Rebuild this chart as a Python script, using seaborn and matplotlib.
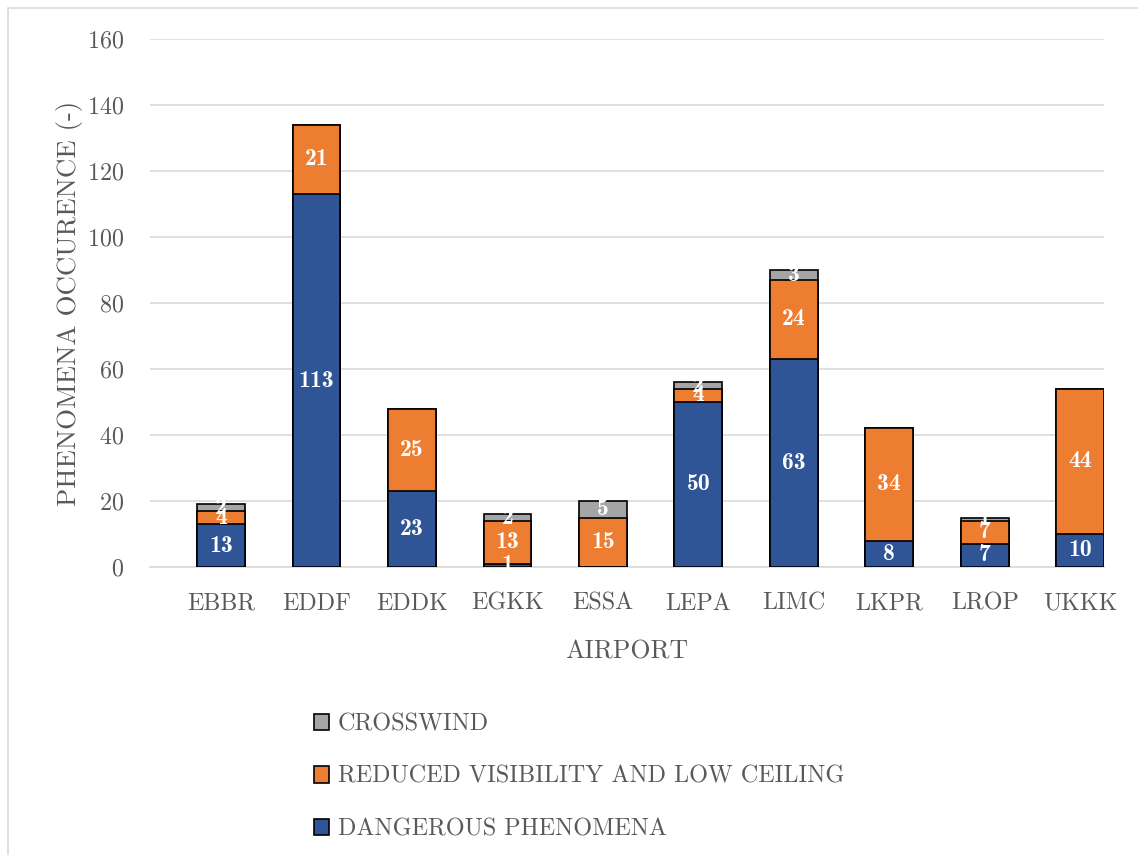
import matplotlib
matplotlib.use("Agg")
import matplotlib.pyplot as plt
from matplotlib.patches import Patch, Rectangle
import numpy as np
import pandas as pd
import seaborn as sns

airports = ["EBBR", "EDDF", "EDDK", "EGKK", "ESSA", "LEPA", "LIMC", "LKPR", "LROP", "UKKK"]
dangerous = [13, 113, 23, 1, 0, 50, 63, 8, 7, 10]
visibility = [4, 21, 25, 13, 15, 4, 24, 34, 7, 44]
crosswind = [2, 0, 0, 2, 5, 2, 3, 0, 1, 0]

series_names = ["DANGEROUS PHENOMENA", "REDUCED VISIBILITY AND LOW CEILING", "CROSSWIND"]
series_colors = ["#2F5597", "#ED7D31", "#A5A5A5"]

sns.set_theme(style="white")
plt.rcParams["font.family"] = ["cmr10", "DejaVu Serif"]
plt.rcParams["axes.formatter.use_mathtext"] = True
plt.rcParams["mathtext.fontset"] = "cm"

text_gray = "#595959"
grid_gray = "#D9D9D9"
fs_tick = 17.3
fs_value = 17
fs_legend = 17.4

df = pd.DataFrame({
    "airport": airports,
    "d": dangerous,
    "v": visibility,
    "c": crosswind,
})
df["lvl1"] = df["d"]
df["lvl2"] = df["d"] + df["v"]
df["lvl3"] = df["d"] + df["v"] + df["c"]

fig = plt.figure(figsize=(11.38, 8.55), dpi=100)
ax = fig.add_axes([150 / 1138, (855 - 567) / 855, (1104 - 150) / 1138, (567 - 39) / 855])

# stacked bars: draw cumulative totals from the top segment down
for col, color in zip(["lvl3", "lvl2", "lvl1"], series_colors[::-1]):
    sns.barplot(data=df, x="airport", y=col, order=airports, color=color,
                width=0.5, edgecolor="black", linewidth=1.2, ax=ax,
                saturation=1, zorder=3)

# segment value labels
for i in range(len(airports)):
    base = 0
    for vals in (dangerous, visibility, crosswind):
        v = vals[i]
        if v > 0:
            ax.text(i, base + v / 2, f"{v}", ha="center", va="center",
                    color="white", fontsize=fs_value, family=["cmb10", "DejaVu Serif"],
                    zorder=5)
        base += v

ax.set_ylim(0, 160)
ax.set_yticks(np.arange(0, 161, 20))
ax.set_xlim(-0.744, 9.25)
ax.grid(axis="y", color=grid_gray, linewidth=1.2, zorder=0)
ax.set_axisbelow(True)
for s in ["top", "right", "left"]:
    ax.spines[s].set_visible(False)
ax.spines["bottom"].set_color(grid_gray)
ax.spines["bottom"].set_linewidth(1.2)
ax.tick_params(axis="both", length=0, labelsize=fs_tick, labelcolor=text_gray)
ax.tick_params(axis="y", pad=19)
ax.tick_params(axis="x", pad=18.5)
ax.set_xlabel("AIRPORT", fontsize=18.6, color=text_gray, labelpad=18)
ax.set_ylabel("PHENOMENA OCCURENCE (-)", fontsize=19.4, color=text_gray,
              va="baseline")
ax.yaxis.set_label_coords(-74 / 954, 0.5)

handles = [Patch(facecolor=c, edgecolor="black", linewidth=1.2, label=n)
           for n, c in zip(series_names, series_colors)][::-1]
fig.legend(handles=handles, loc="upper left", bbox_to_anchor=(292 / 1138, 1 - 692 / 855),
           frameon=False, fontsize=fs_legend, labelcolor=text_gray, labelspacing=1.24,
           handlelength=0.65, handleheight=0.65, handletextpad=0.35)

# chart area frame
fig.patches.append(Rectangle((8 / 1138, -0.05), 1.2, 1 - 8 / 855 + 0.05,
                             transform=fig.transFigure, fill=False,
                             edgecolor=grid_gray, linewidth=1.2))

fig.savefig("out.png", dpi=100)
